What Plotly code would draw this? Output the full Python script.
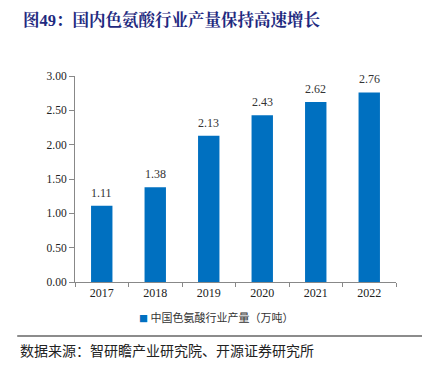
import plotly.graph_objects as go

years = ["2017", "2018", "2019", "2020", "2021", "2022"]
output = [1.11, 1.38, 2.13, 2.43, 2.62, 2.76]
y_ticks = [0, 0.5, 1.0, 1.5, 2.0, 2.5, 3.0]
y_tick_text = ["0.00", "0.50", "1.00", "1.50", "2.00", "2.50", "3.00"]
series_name = "中国色氨酸行业产量（万吨）"
title_text = "图49：国内色氨酸行业产量保持高速增长"
source_text = "数据来源：智研瞻产业研究院、开源证券研究所"

SERIF = "Liberation Serif, Noto Serif CJK SC, Noto Sans CJK SC, serif"
CJK = "Noto Sans CJK SC, sans-serif"
BAR = "#0070C0"

fig = go.Figure()
fig.add_trace(go.Bar(
    x=years, y=output, name=series_name,
    marker=dict(color=BAR, line=dict(width=0)),
    showlegend=False,
))

for i, v in enumerate(output):
    fig.add_annotation(x=i, y=v, text=f"{v:.2f}", showarrow=False,
                       yanchor="middle", yshift=13,
                       font=dict(family=SERIF, size=12, color="#333333"))

fig.update_layout(
    width=422, height=361,
    margin=dict(l=67, r=34, t=68, b=87),
    plot_bgcolor="white", paper_bgcolor="white",
    bargap=0.6,
    xaxis=dict(type="category", range=[-0.5, len(years) - 0.5], autorange=False,
               showline=True, linecolor="#888888", linewidth=1,
               ticks="outside", tickson="boundaries", ticklen=4, tickcolor="#888888",
               tickfont=dict(family=SERIF, size=12, color="#222222"),
               showgrid=False, zeroline=False),
    yaxis=dict(range=[0, 3], tickvals=y_ticks, ticktext=y_tick_text,
               showline=True, linecolor="#888888", linewidth=1,
               ticks="outside", ticklen=5, tickcolor="#888888",
               tickfont=dict(family=SERIF, size=11.5, color="#222222"),
               showgrid=False, zeroline=False),
)

# legend
fig.add_annotation(text=f"<span style='font-size:9px;color:{BAR}'>■</span> {series_name}",
                   xref="paper", yref="paper", x=0.44, y=-35/206,
                   xanchor="center", yanchor="middle", showarrow=False,
                   font=dict(family=CJK, size=11, color="#333333"))

fig.add_annotation(text=f"<b>{title_text}</b>", xref="paper", yref="paper",
                   x=-0.168, y=1.0, xanchor="left", yanchor="middle",
                   yshift=56, showarrow=False,
                   font=dict(family=SERIF, size=16.5, color="#1F2A80"))
fig.add_annotation(text=source_text, xref="paper", yref="paper",
                   x=-0.178, y=0, xanchor="left", yanchor="middle",
                   yshift=-68, showarrow=False,
                   font=dict(family=CJK, size=14, color="#222222"))
fig.add_shape(type="line", xref="paper", yref="paper",
              x0=-0.18, x1=1.106, y0=-54/206, y1=-54/206,
              line=dict(color="#666666", width=1.5))

fig.write_html("out.html")
